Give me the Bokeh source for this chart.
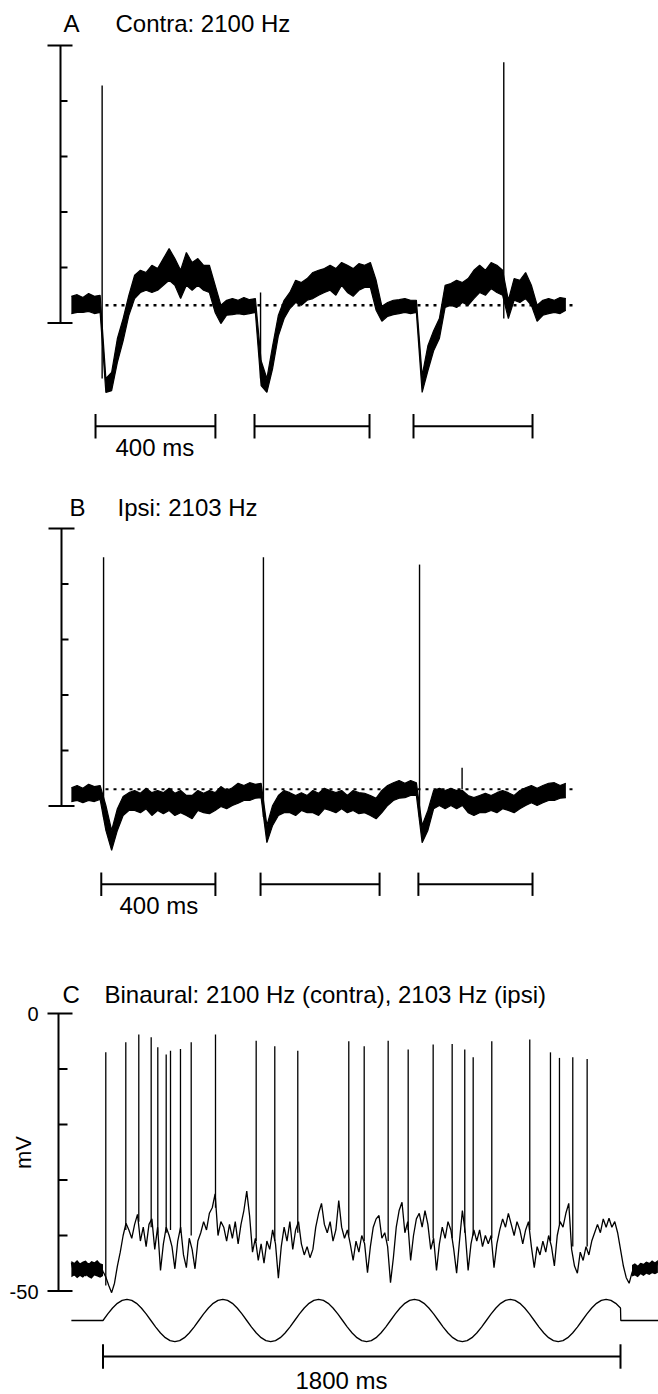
import numpy as np
from bokeh.plotting import figure
from bokeh.layouts import column
from bokeh.models import Range1d, Label
from bokeh.embed import file_html
from bokeh.resources import INLINE

# ---------------- data (time in ms, membrane potential in mV) ----------------
# Panels A and B: noisy band of the trace, read as upper / lower edge every 20 ms
ab_t = np.arange(-110, 1611, 20)

a_upper = [-45.2, -44.9, -45.4, -44.7, -45.2, -45.0, -60.0, -58.9, -52.8, -49.2,
           -45.0, -41.4, -40.5, -40.9, -39.6, -40.2, -38.4, -36.6, -38.4, -40.5,
           -37.3, -39.1, -38.4, -39.6, -39.6, -43.2, -46.8, -45.9, -45.6, -45.9,
           -45.4, -45.8, -45.6, -56.8, -60.0, -54.1, -48.6, -45.9, -44.5, -42.3,
           -42.7, -42.0, -40.9, -40.5, -40.2, -39.6, -40.2, -39.1, -39.6, -40.2,
           -39.3, -39.6, -39.1, -42.3, -47.0, -46.3, -45.9, -45.8, -45.6, -45.9,
           -45.9, -59.5, -54.1, -51.4, -49.2, -43.2, -42.9, -42.3, -42.7, -42.0,
           -40.5, -39.6, -40.5, -39.1, -39.6, -40.5, -45.9, -42.0, -42.3, -40.9,
           -43.2, -46.8, -45.9, -45.6, -45.9, -45.4, -45.6]
a_lower = [-48.3, -48.1, -48.1, -47.9, -48.3, -48.1, -62.5, -62.2, -57.1, -53.2,
           -48.6, -45.6, -44.5, -44.1, -44.5, -44.1, -43.2, -42.3, -43.2, -45.6,
           -43.2, -44.1, -43.2, -44.1, -44.5, -48.1, -50.1, -48.6, -48.5, -48.3,
           -48.5, -48.3, -48.1, -61.3, -62.5, -58.2, -52.3, -49.2, -47.4, -46.3,
           -46.8, -45.9, -45.6, -45.0, -44.5, -44.1, -45.0, -43.2, -44.5, -45.2,
           -44.1, -43.6, -43.6, -47.7, -49.7, -48.8, -48.5, -48.3, -48.1, -48.3,
           -48.1, -62.5, -58.6, -55.0, -52.8, -47.2, -46.8, -47.2, -46.3, -46.8,
           -45.6, -44.5, -45.0, -43.8, -44.5, -45.0, -49.2, -45.9, -46.3, -45.6,
           -46.8, -49.7, -48.6, -48.3, -48.1, -48.3, -47.7]
a_spike_t = [-3, 548, 1394]
a_spike_peak = [-7.2, -44.5, -3.0]
a_spike_base = [-60.0, -60.0, -49.2]
a_tone_on = [-26, 527, 1080]
a_tone_off = [391, 927, 1494]
a_rest = -46.8

b_upper = [-46.7, -46.3, -46.8, -46.1, -46.5, -46.3, -49.9, -54.4, -50.5, -48.3,
           -47.6, -47.2, -47.7, -46.8, -47.6, -47.2, -47.6, -46.8, -47.7, -47.2,
           -48.1, -48.1, -47.2, -47.7, -47.2, -47.6, -46.5, -47.2, -46.7, -45.9,
           -46.3, -45.8, -46.1, -45.9, -53.5, -49.9, -48.1, -47.2, -47.6, -48.1,
           -47.6, -48.1, -47.2, -47.7, -46.8, -47.2, -47.6, -47.2, -48.1, -47.2,
           -47.6, -47.7, -48.1, -48.6, -47.2, -46.3, -45.8, -45.4, -45.9, -45.4,
           -45.8, -53.5, -50.8, -47.2, -46.8, -47.2, -46.8, -47.2, -47.2, -48.1,
           -48.5, -48.1, -47.7, -48.1, -47.6, -47.2, -47.6, -48.1, -47.2, -46.7,
           -46.3, -46.8, -46.3, -45.9, -45.8, -46.3, -45.9]
b_lower = [-49.2, -49.0, -49.4, -49.0, -49.2, -48.8, -54.4, -58.0, -54.4, -51.7,
           -50.8, -50.8, -51.2, -50.5, -51.7, -50.8, -51.4, -50.8, -51.7, -51.2,
           -51.7, -52.3, -50.8, -51.2, -51.4, -50.8, -50.1, -50.5, -49.9, -49.5,
           -49.0, -49.0, -48.6, -48.5, -56.6, -53.5, -51.7, -51.2, -51.2, -51.7,
           -50.8, -51.2, -51.2, -51.7, -50.5, -50.8, -51.2, -50.5, -51.2, -50.8,
           -51.4, -51.2, -51.7, -52.3, -51.2, -49.9, -49.0, -48.6, -48.5, -48.1,
           -48.1, -56.6, -54.4, -50.5, -49.9, -50.5, -49.9, -50.5, -49.9, -51.2,
           -51.7, -51.2, -51.2, -50.8, -51.2, -50.5, -50.8, -51.2, -50.5, -49.9,
           -49.4, -49.9, -49.4, -49.0, -49.0, -48.6, -48.5]
b_spike_t = [2, 558, 1101, 1249]
b_spike_peak = [-5.2, -5.2, -6.5, -43.1]
b_spike_base = [-52.0, -52.0, -52.0, -47.0]
b_tone_on = [-6, 548, 1097]
b_tone_off = [391, 962, 1494]
b_rest = -47.0

# Panel C: binaural response, read every 10 ms
c_t = np.arange(-110, 1931, 10)
c_v = [-44.9, -47.2, -45.2, -47.0, -44.8, -47.3, -45.0, -47.1, -44.9, -47.2,
       -45.3, -46.5, -47.5, -49.0, -50.3, -48.6, -45.5, -43.0, -40.0, -37.8,
       -39.0, -40.5, -38.0, -36.2, -41.0, -38.5, -42.0, -38.0, -37.0, -42.5,
       -38.5, -46.3, -41.5, -38.5, -40.0, -42.0, -46.0, -41.0, -38.5, -43.5,
       -45.8, -40.5, -42.5, -46.0, -41.0, -39.5, -37.5, -39.0, -36.0, -35.0,
       -32.5, -40.0, -37.5, -38.5, -41.0, -38.0, -40.5, -37.5, -41.5, -38.0,
       -35.5, -32.0, -36.5, -43.0, -40.5, -44.5, -41.5, -45.0, -41.0, -42.5,
       -39.0, -41.5, -47.7, -42.0, -38.5, -41.0, -37.5, -42.5, -39.0, -37.5,
       -41.5, -43.5, -42.0, -44.0, -42.5, -38.5, -36.0, -34.2, -38.0, -39.5,
       -37.5, -41.0, -39.0, -33.7, -38.5, -40.5, -39.0, -41.5, -44.5, -41.0,
       -43.0, -40.0, -41.5, -46.7, -42.0, -38.5, -37.0, -36.4, -40.5, -39.5,
       -42.0, -48.5, -44.0, -38.5, -35.5, -34.0, -39.5, -37.5, -44.5, -40.0,
       -37.0, -36.0, -38.5, -35.5, -38.0, -42.5, -40.5, -46.3, -41.5, -38.5,
       -40.5, -37.5, -39.0, -42.5, -46.8, -41.0, -35.5, -39.5, -46.3, -41.5,
       -39.0, -41.0, -39.0, -42.0, -40.0, -41.5, -40.0, -45.8, -41.5, -39.0,
       -37.0, -38.5, -36.0, -38.0, -40.0, -37.5, -39.0, -41.5, -39.0, -37.5,
       -42.0, -45.8, -42.0, -43.5, -41.0, -43.0, -40.0, -42.0, -45.5, -40.0,
       -37.5, -38.5, -36.0, -34.2, -42.5, -45.5, -46.8, -43.0, -44.5, -42.0,
       -43.5, -41.0, -39.5, -38.0, -39.5, -37.0, -38.5, -36.9, -38.5, -37.5,
       -39.5, -42.5, -45.5, -47.6, -48.6, -46.7, -45.3, -46.8, -45.0, -46.6,
       -44.8, -46.5, -44.6, -46.2, -44.7]
# thick resting band before and after the binaural tone
c_pre_t = np.arange(-110, 1, 10)
c_pre_upper = [-44.6, -44.9, -44.4, -45.0, -44.7, -44.5, -45.1, -44.6, -44.8, -44.4, -45.0, -45.2]
c_pre_lower = [-47.5, -47.2, -47.7, -47.3, -47.6, -47.1, -47.5, -47.8, -47.2, -47.4, -47.6, -47.3]
c_post_t = np.arange(1840, 1931, 10)
c_post_upper = [-45.3, -45.0, -45.4, -44.9, -45.1, -44.7, -44.9, -44.5, -44.8, -44.4]
c_post_lower = [-47.4, -47.2, -47.5, -47.0, -47.3, -46.9, -47.1, -46.8, -47.0, -46.7]

c_spike_t = [9.7, 79.3, 124.5, 167.6, 190.6, 219.8, 234.8, 269.5, 306.8, 391.3,
             532.8, 597.5, 677.5, 854.9, 908.5, 991.9, 1061.5, 1148.4, 1214.5,
             1258.3, 1287.6, 1352.3, 1484.4, 1556.4, 1587.7, 1634.0, 1684.0]
c_spike_peak = [-7.0, -5.2, -3.8, -4.3, -6.1, -7.4, -6.7, -6.4, -5.2, -3.8,
                -4.9, -5.9, -6.7, -5.0, -5.9, -4.9, -6.5, -5.6, -5.5,
                -6.5, -7.9, -5.0, -4.7, -7.0, -8.0, -7.9, -8.2]
c_spike_base = [-49.0, -39.0, -37.5, -38.5, -39.5, -39.5, -39.0, -39.5, -40.0, -35.0,
                -41.0, -41.0, -39.5, -40.0, -41.0, -41.0, -39.0, -40.5, -40.5,
                -39.5, -40.0, -40.5, -39.0, -41.0, -38.0, -42.0, -42.0]
c_tone_on, c_tone_off = 0, 1800
# stimulus envelope: 3 Hz binaural beat, 20 readings per cycle (relative amplitude)
c_stim_t = np.arange(109) * (1000.0 / 60.0)
c_stim = [0, .31, .59, .81, .95, 1, .95, .81, .59, .31, 0, -.31, -.59, -.81, -.95, -1, -.95, -.81, -.59, -.31,
          0, .31, .59, .81, .95, 1, .95, .81, .59, .31, 0, -.31, -.59, -.81, -.95, -1, -.95, -.81, -.59, -.31,
          0, .31, .59, .81, .95, 1, .95, .81, .59, .31, 0, -.31, -.59, -.81, -.95, -1, -.95, -.81, -.59, -.31,
          0, .31, .59, .81, .95, 1, .95, .81, .59, .31, 0, -.31, -.59, -.81, -.95, -1, -.95, -.81, -.59, -.31,
          0, .31, .59, .81, .95, 1, .95, .81, .59, .31, 0, -.31, -.59, -.81, -.95, -1, -.95, -.81, -.59, -.31,
          0, .31, .59, .81, .95, 1, .95, .81, .59]
c_rec_start = -110

scale_mv = [0, -10, -20, -30, -40, -50]

# ---------------- layout helpers ----------------
W = 658
PX_MS = 0.2875
PX_MV = 5.55
X_START = -102.5 / PX_MS
X_END = (W - 102.5) / PX_MS
FONT = "Liberation Sans"


def panel(height, zero_px):
    p = figure(width=W, height=height,
               x_range=Range1d(X_START, X_END),
               y_range=Range1d(-(height - zero_px) / PX_MV, zero_px / PX_MV),
               x_axis_type=None, y_axis_type=None,
               toolbar_location=None, output_backend="svg",
               min_border=0, outline_line_color=None)
    p.background_fill_color = "white"
    p.border_fill_color = "white"
    return p


def px_to_ms(px):
    return (px - 102.5) / PX_MS


def mv_scale(p, bar_px, cap_l_px, cap_r_px, tick_px):
    x = px_to_ms(bar_px)
    p.segment(x0=[x], y0=[scale_mv[0]], x1=[x], y1=[scale_mv[-1]], line_width=2, color="black")
    ends = [scale_mv[0], scale_mv[-1]]
    p.segment(x0=[px_to_ms(cap_l_px)] * 2, y0=ends, x1=[px_to_ms(cap_r_px)] * 2, y1=ends,
              line_width=2, color="black")
    mids = scale_mv[1:-1]
    p.segment(x0=[x] * len(mids), y0=mids, x1=[px_to_ms(tick_px)] * len(mids), y1=mids,
              line_width=2, color="black")


def time_bars(p, on, off, y, cap):
    n = len(on)
    p.segment(x0=on, y0=[y] * n, x1=off, y1=[y] * n, line_width=2, color="black")
    xs = list(on) + list(off)
    p.segment(x0=xs, y0=[y - cap] * len(xs), x1=xs, y1=[y + cap] * len(xs),
              line_width=2, color="black")


def label(p, x, y, text, size="24px", align="left", baseline="alphabetic", angle=0):
    p.add_layout(Label(x=x, y=y, x_units="screen", y_units="screen", text=text,
                       text_font=FONT, text_font_size=size, text_color="black",
                       text_align=align, text_baseline=baseline, angle=angle))


def band_trace(p, upper, lower, sp_t, sp_base, sp_peak):
    p.varea(x=ab_t, y1=lower, y2=upper, fill_color="black")
    p.line(ab_t, upper, line_width=1.2, color="black")
    p.line(ab_t, lower, line_width=1.2, color="black")
    p.segment(x0=sp_t, y0=sp_base, x1=sp_t, y1=sp_peak, line_width=1.4, color="black")


# ---------------- panel A ----------------
pa = panel(480, 45)
band_trace(pa, a_upper, a_lower, a_spike_t, a_spike_base, a_spike_peak)
pa.line([px_to_ms(105), px_to_ms(573)], [a_rest, a_rest], line_dash="3 5", line_width=2.4, color="black")
mv_scale(pa, 60, 47, 72, 67)
time_bars(pa, a_tone_on, a_tone_off, -68.6, 2.2)
label(pa, 63, 457, "A")
label(pa, 115, 457, "Contra: 2100 Hz")
label(pa, 115, 33, "400 ms")

# ---------------- panel B ----------------
pb = panel(480, 48)
band_trace(pb, b_upper, b_lower, b_spike_t, b_spike_base, b_spike_peak)
pb.line([px_to_ms(105), px_to_ms(575)], [b_rest, b_rest], line_dash="3 5", line_width=2, color="black")
mv_scale(pb, 61, 48, 74, 68)
time_bars(pb, b_tone_on, b_tone_off, -64.1, 2.1)
label(pb, 69, 453, "B")
label(pb, 117, 453, "Ipsi: 2103 Hz")
label(pb, 119, 55, "400 ms")

# ---------------- panel C ----------------
pc = panel(434, 53)
pc.varea(x=c_pre_t, y1=c_pre_lower, y2=c_pre_upper, fill_color="black")
pc.varea(x=c_post_t, y1=c_post_lower, y2=c_post_upper, fill_color="black")
pc.line(c_t, c_v, line_width=1.3, color="black")
pc.segment(x0=c_spike_t, y0=c_spike_base, x1=c_spike_t, y1=c_spike_peak, line_width=1.3, color="black")
mv_scale(pc, 58, 47, 72, 67)
time_bars(pc, [c_tone_on], [c_tone_off], -61.8, 2.2)

pc.extra_y_ranges = {"stim": Range1d(-74 / 21.2, 360 / 21.2)}
stim_x = [c_rec_start, c_tone_on] + list(c_stim_t) + [c_tone_off + 1, X_END]
stim_y = [0, 0] + list(c_stim) + [0, 0]
pc.line(stim_x, stim_y, y_range_name="stim", line_width=1.3, color="black")

label(pc, 62, 400, "C")
label(pc, 104, 400, "Binaural: 2100 Hz (contra), 2103 Hz (ipsi)")
label(pc, 38, 381, "0", size="20px", align="right", baseline="middle")
label(pc, 38, 103, "-50", size="20px", align="right", baseline="middle")
label(pc, 23, 242, "mV", size="22px", align="center", baseline="middle", angle=np.pi / 2)
label(pc, 295, 14, "1800 ms")

layout = column(pa, pb, pc)
open("out.html", "w").write(file_html(layout, INLINE))
